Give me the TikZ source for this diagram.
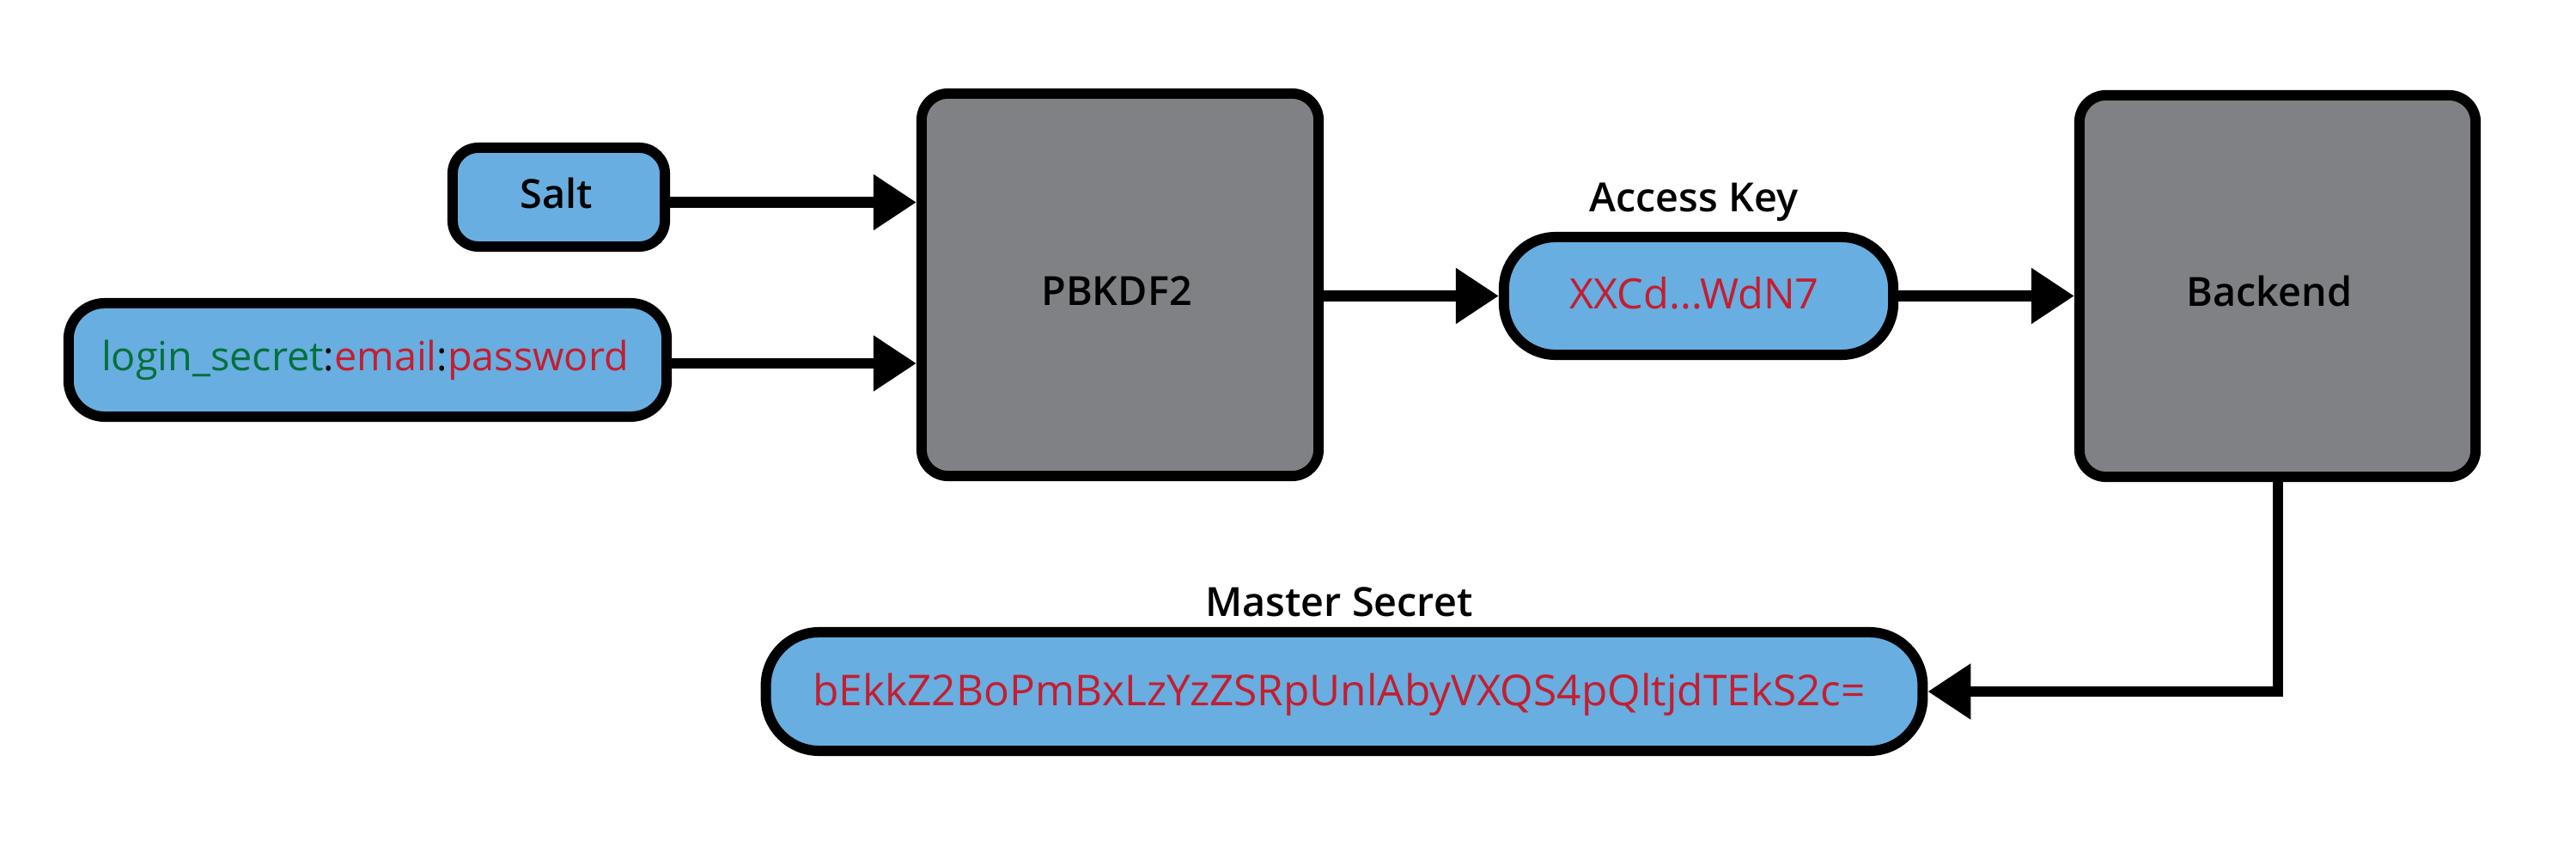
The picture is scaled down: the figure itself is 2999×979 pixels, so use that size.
\documentclass[tikz,border=0pt]{standalone}
\usepackage{fontspec}
\setmainfont{Open Sans}
\IfFontExistsTF{Open Sans SemiBold}{\newfontfamily\semibfont{Open Sans SemiBold}}{%
  \IfFontExistsTF{Open Sans Semibold}{\newfontfamily\semibfont{Open Sans Semibold}}{\newcommand\semibfont{\bfseries}}}
\usetikzlibrary{arrows.meta}
\definecolor{keyblue}{RGB}{104,174,224}
\definecolor{procgray}{RGB}{128,129,133}
\definecolor{valred}{RGB}{196,30,48}
\definecolor{valgreen}{RGB}{6,112,60}
\tikzset{
  box/.style={draw=black, line width=0.12cm, inner sep=0pt, anchor=center},
  bluebox/.style={box, fill=keyblue},
  graybox/.style={box, fill=procgray, rounded corners=0.31cm, minimum width=4.62cm, minimum height=4.45cm},
  arr/.style={line width=0.12cm, -{Triangle[length=0.5cm,width=0.62cm]}},
  txt/.style={inner sep=0pt, anchor=base, font=\fontsize{13.3}{16}\selectfont},
  lbl/.style={inner sep=0pt, anchor=base, font=\fontsize{13.3}{16}\selectfont\semibfont},
}
\begin{document}
\begin{tikzpicture}[x=0.01cm,y=-0.01cm]
\useasboundingbox (0,0) rectangle (2999,979);
% boxes
\node[bluebox, rounded corners=0.30cm, minimum width=2.47cm, minimum height=1.15cm] (salt) at (650.5,229.5) {};
\node[bluebox, rounded corners=0.42cm, minimum width=6.96cm, minimum height=1.32cm] (login) at (428,419) {};
\node[graybox] (pb) at (1304,331.5) {};
\node[bluebox, rounded corners=0.60cm, minimum width=4.53cm, minimum height=1.37cm] (ak) at (1977.5,344.5) {};
\node[graybox, minimum width=4.61cm, minimum height=4.44cm] (be) at (2651.5,333) {};
\node[bluebox, rounded corners=0.62cm, minimum width=13.46cm, minimum height=1.38cm] (ms) at (1565,805) {};
% texts
\node[lbl] (salttxt) at (648,242.7) {Salt};
\node[txt] (logintxt) at (425,431.7) {\textcolor{valgreen}{login\_secret}:\textcolor{valred}{email}:\textcolor{valred}{password}};
\node[lbl] (pbtxt) at (1300,356) {PBKDF2};
\node[txt, text=valred, font=\fontsize{13.85}{16}\selectfont] (aktxt) at (1972.5,360) {XXCd...WdN7};
\node[lbl] (betxt) at (2642,356.7) {Backend};
\node[txt, text=valred, font=\fontsize{14.1}{16}\selectfont] (mstxt) at (1559,821.7) {bEkkZ2BoPmBxLzYzZSRpUnlAbyVXQS4pQltjdTEkS2c=};
\node[lbl] (aklbl) at (1972,247) {Access Key};
\node[lbl] (mslbl) at (1559,717) {Master Secret};
% connectors
\coordinate (saltout) at ([yshift=-0.06cm]salt.east);
\coordinate (loginout) at ([yshift=-0.04cm]login.east);
\draw[arr] (saltout) -- (saltout -| pb.west);
\draw[arr] (loginout) -- (loginout -| pb.west);
\draw[arr] (pb.east |- ak.west) -- (ak.west);
\draw[arr] (ak.east) -- (ak.east -| be.west);
\draw[arr] (be.south) |- (ms.east);
\end{tikzpicture}
\end{document}
